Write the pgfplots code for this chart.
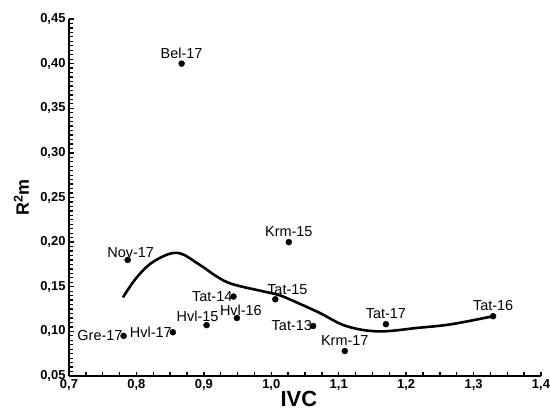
\documentclass[border=0pt]{standalone}
\usepackage{fontspec}
\setmainfont{Liberation Sans}
\usepackage{pgfplots}
\pgfplotsset{compat=1.18}
\begin{document}
\begin{tikzpicture}
\useasboundingbox (0,0) rectangle (550bp,417bp);
\begin{axis}[
  at={(69bp,41bp)}, anchor=south west,
  scale only axis, width=472bp, height=357bp,
  xmin=0.7, xmax=1.4, ymin=0.05, ymax=0.45,
  axis x line*=bottom, axis y line*=left,
  axis line style={line width=1.8pt, -},
  xtick={0.7,0.8,...,1.41}, minor tick num=3,
  ytick={0.05,0.10,...,0.46},
  yminorticks=true,
  minor y tick num=9,
  every tick/.style={line width=1.3pt, black},
  every minor tick/.style={line width=1.3pt, black},
  major tick length=4.5bp, minor tick length=4bp,
  tick align=inside,
  xticklabel style={/pgf/number format/.cd, fixed, fixed zerofill, precision=1, use comma},
  yticklabel style={/pgf/number format/.cd, fixed, fixed zerofill, precision=2, use comma},
  /pgf/number format/assume math mode=true,
  ticklabel style={font=\fontsize{13}{14}\selectfont\bfseries},
  xlabel={IVC}, ylabel={R\textsuperscript{2}m},
  xlabel style={font=\fontsize{22}{24}\selectfont\bfseries, at={(axis description cs:0.487,-0.064)}, anchor=center},
  ylabel style={font=\fontsize{18}{20}\selectfont\bfseries, at={(axis description cs:-0.101,0.5)}, anchor=center},
  clip=false,
  nodes near coords={\pgfplotspointmeta},
  point meta=explicit symbolic,
]
\addplot[smooth, line width=2.6pt, black, tension=0.6] coordinates {
(0.780,0.138) (0.800,0.160) (0.825,0.178) (0.860,0.188) (0.893,0.175) (0.918,0.162) (0.942,0.153) (0.987,0.145) (1.010,0.141) (1.030,0.135) (1.071,0.121) (1.111,0.106) (1.159,0.100) (1.218,0.104) (1.267,0.108) (1.329,0.117)
};
\pgfplotsset{every node near coord/.style={font=\fontsize{14.5}{15}\selectfont, text=black, inner sep=1bp}}
\addplot[only marks, mark=*, mark size=3bp, black,
  nodes near coords align={above}, every node near coord/.append style={yshift=4bp}] coordinates {
(0.867,0.400) [Bel-17]
(1.026,0.200) [Krm-15]
(1.109,0.078) [Krm-17]
(1.170,0.108) [Tat-17]
(1.329,0.117) [Tat-16]
};
\addplot[only marks, mark=*, mark size=3bp, black,
  nodes near coords align={above}, every node near coord/.append style={xshift=4bp, yshift=1bp}] coordinates {
(0.949,0.115) [Hvl-16]
};
\addplot[only marks, mark=*, mark size=3bp, black,
  nodes near coords align={above}, every node near coord/.append style={xshift=12bp, yshift=3bp}] coordinates {
(1.006,0.136) [Tat-15]
};
\addplot[only marks, mark=*, mark size=3bp, black,
  nodes near coords align={above}, every node near coord/.append style={xshift=3bp, yshift=1bp}] coordinates {
(0.787,0.180) [Nov-17]
};
\addplot[only marks, mark=*, mark size=3bp, black,
  nodes near coords align={above}, every node near coord/.append style={xshift=-9bp, yshift=2bp}] coordinates {
(0.904,0.107) [Hvl-15]
};
\addplot[only marks, mark=*, mark size=3bp, black,
  nodes near coords align={left}, every node near coord/.append style={xshift=0bp}] coordinates {
(0.781,0.095) [Gre-17]
(0.854,0.099) [Hvl-17]
(0.944,0.139) [Tat-14]
(1.062,0.106) [Tat-13]
};
\end{axis}
\end{tikzpicture}
\end{document}
